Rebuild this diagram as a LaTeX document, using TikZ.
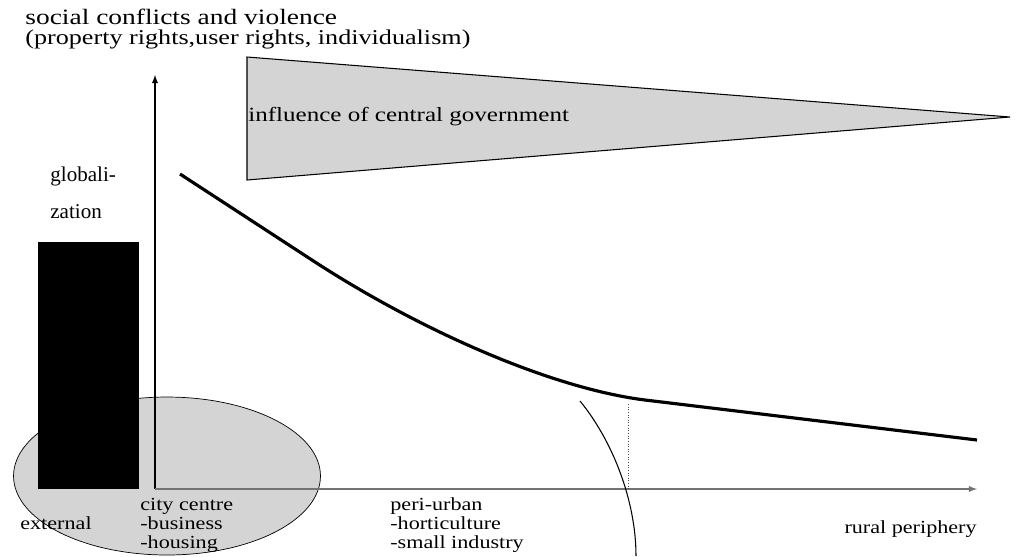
\documentclass[tikz,border=0pt]{standalone}
\usepackage{fontspec}
\setmainfont{Liberation Serif}
\newfontfamily\widefont{Liberation Serif}[FakeStretch=1.25]
\newfontfamily\midfont{Liberation Serif}[FakeStretch=1.24]
\newfontfamily\lblfont{Liberation Serif}[FakeStretch=1.2]
\usetikzlibrary{shapes.geometric}
\definecolor{lightfill}{HTML}{D4D4D4}
\begin{document}
\begin{tikzpicture}[x=0.02cm, y=-0.02cm,
	lbl/.style={anchor=base west, inner sep=0pt, align=left, font=\lblfont\fontsize{10.5}{10.8}\selectfont},
	head/.style={anchor=base west, inner sep=0pt, font=\widefont\fontsize{12.5}{14}\selectfont}]

	\useasboundingbox (0,0) rectangle (1017,556);

	% zones and influences
	\node (city) [ellipse, draw, fill=lightfill, minimum width=6.14cm, minimum height=3.16cm, inner sep=0pt] at (167,476) {};
	\fill (38,242) rectangle (139,489);
	\draw[fill=lightfill, line width=0.6pt] (247,57) -- (1010,117) -- (247,180) -- cycle;

	\coordinate (o) at (155,489);
	\coordinate (ytip) at (155,75);
	\coordinate (xtip) at (977,489);
	\coordinate (c1) at (180,174);
	\coordinate (c2) at (315,262);
	\coordinate (c3) at (645,400);
	\coordinate (c4) at (977,440);
	\coordinate (b1) at (580,401);
	\coordinate (b2) at (636,556);
	\coordinate (d1) at (628,404);
	\coordinate (d2) at (628,489);

	\path[-latex]
	(o) edge[line width=0.6pt] (ytip)
	(o) edge[line width=0.6pt, draw=black!55] (xtip);

	\draw[line width=1.8pt] (c1) -- (c2) .. controls (420,330) and (550,388) .. (c3) -- (c4);
	\draw[line width=0.6pt] (b1) .. controls (612,440) and (636,500) .. (b2);
	\draw[densely dotted, line width=0.5pt, black!70] (d1) -- (d2);

	% labels
	\node (title) [head] at (25,24) {social conflicts and violence};
	\node (sub) [head, font=\midfont\fontsize{12}{14}\selectfont] at (25,44) {(property rights,user rights, individualism)};
	\node (glob) [anchor=base west, inner sep=0pt, align=left, font=\fontsize{12}{21}\selectfont] at (50,218) {globali-\\zation};
	\node (gov) [anchor=base west, inner sep=0pt, font=\midfont\fontsize{11.5}{14}\selectfont] at (248,121) {influence of central government};
	\node (ext) [lbl] at (20,529) {external};
	\node (cc) [lbl] at (140,548) {city centre\\-business\\-housing};
	\node (peri) [lbl] at (390,548) {peri-urban\\-horticulture\\-small industry};
	\node (rural) [lbl, anchor=base east] at (977,533) {rural periphery};

\end{tikzpicture}
\end{document}
